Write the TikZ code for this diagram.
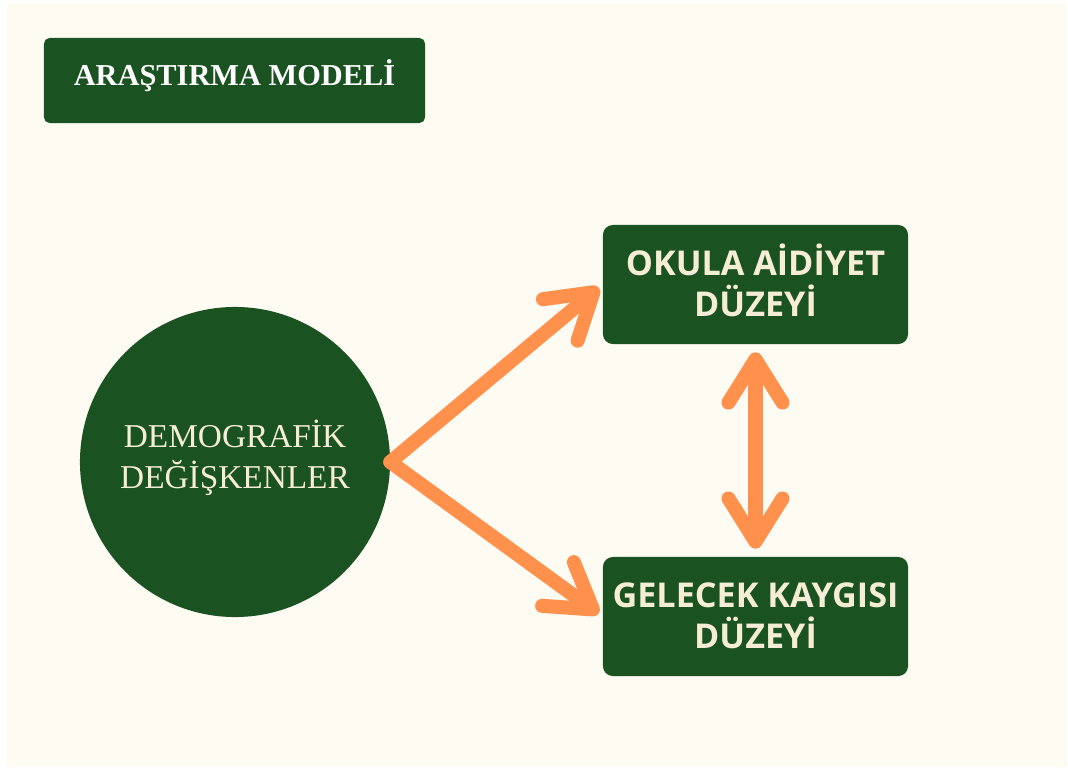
\documentclass[tikz,border=0pt]{standalone}
\usepackage{fontspec}
\setmainfont{Liberation Serif}
\newfontfamily\boxfont{Open Sans}
\usetikzlibrary{arrows.meta,positioning}
\definecolor{darkgreen}{HTML}{1B5222}
\definecolor{paper}{HTML}{FEFBF2}
\definecolor{textcream}{HTML}{F5EDD5}
\definecolor{flowcolor}{HTML}{FF914D}
\tikzset{barb/.tip={Straight Barb[round,length=1.08cm,width=1.35cm]}}

\begin{document}
\begin{tikzpicture}[x=0.025cm, y=-0.025cm, every text node part/.style={align=center},
  titlebox/.style={fill=darkgreen, rounded corners=4pt, minimum width=9.525cm, minimum height=2.125cm, text=white, inner sep=0pt, text height=11.5pt, text depth=4pt, font=\bfseries\fontsize{21.6}{25}\selectfont},
  circ/.style={circle, fill=darkgreen, minimum size=7.75cm, text=textcream, inner sep=0pt, text height=42pt, text depth=5pt, font=\fontsize{23.7}{28.5}\selectfont},
  varbox/.style={fill=darkgreen, rounded corners=7pt, minimum width=7.625cm, minimum height=2.975cm, text=textcream, inner sep=0pt, text height=49.8pt, text depth=5pt, font=\boxfont\bfseries\fontsize{24.3}{28.5}\selectfont},
  flow/.style={draw=flowcolor, line width=10pt, line cap=round, line join=round}]
% page and background
\useasboundingbox (0,0) rectangle (1068,769);
\fill[white] (0,0) rectangle (1068,769);
\fill[paper] (7,3) rectangle (1067,767);
% nodes
\draw
  node (title) at (234.5,80.5)[titlebox]{ARAŞTIRMA MODELİ}
  node (demo) at (235,462)[circ]{DEMOGRAFİK\\DEĞİŞKENLER}
  node (okul) at (755.5,284.5)[varbox]{OKULA AİDİYET\\DÜZEYİ}
  node (gelecek) at (755.5,616.5)[varbox]{GELECEK KAYGISI\\DÜZEYİ};
% arrows
\draw[flow, -barb, shorten >=0.125cm] (demo.east) -- (okul.west);
\draw[flow, -barb, shorten >=0.125cm] (demo.east) -- (gelecek.west);
\draw[flow, barb-barb, shorten >=0.2cm, shorten <=0.2cm] (okul.south) -- (gelecek.north);
\end{tikzpicture}
\end{document}
